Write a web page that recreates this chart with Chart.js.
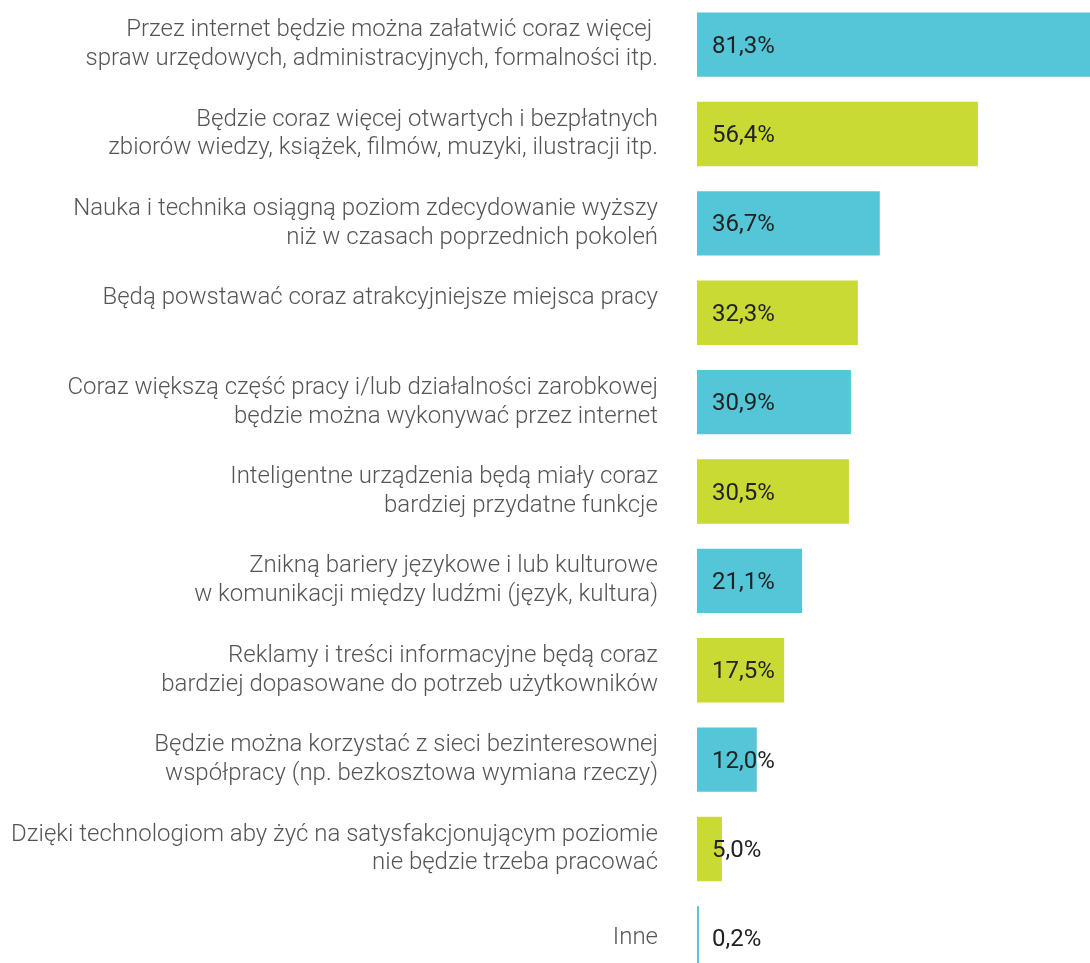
<!DOCTYPE html>
<html>
<head>
<meta charset="utf-8">
<script src="https://cdn.jsdelivr.net/npm/chart.js@4/dist/chart.umd.min.js"></script>
<style>
  html, body { margin: 0; padding: 0; background: #fff; overflow: hidden; }
  #wrap { position: relative; width: 1090px; height: 983px; }
</style>
</head>
<body>
<div id="wrap"><canvas id="wykres"></canvas></div>
<script>
// Dane z wykresu
const kategorie = [
    ["Przez internet będzie można załatwić coraz więcej ", "spraw urzędowych, administracyjnych, formalności itp."],
    ["Będzie coraz więcej otwartych i bezpłatnych", "zbiorów wiedzy, książek, filmów, muzyki, ilustracji itp."],
    ["Nauka i technika osiągną poziom zdecydowanie wyższy", "niż w czasach poprzednich pokoleń"],
    ["Będą powstawać coraz atrakcyjniejsze miejsca pracy", ""],
    ["Coraz większą część pracy i/lub działalności zarobkowej", "będzie można wykonywać przez internet"],
    ["Inteligentne urządzenia będą miały coraz", "bardziej przydatne funkcje"],
    ["Znikną bariery językowe i lub kulturowe", "w komunikacji między ludźmi (język, kultura)"],
    ["Reklamy i treści informacyjne będą coraz", "bardziej dopasowane do potrzeb użytkowników"],
    ["Będzie można korzystać z sieci bezinteresownej", "współpracy (np. bezkosztowa wymiana rzeczy)"],
    ["Dzięki technologiom aby żyć na satysfakcjonującym poziomie", "nie będzie trzeba pracować"],
    "Inne"
];
const wartosci = [81.3, 56.4, 36.7, 32.3, 30.9, 30.5, 21.1, 17.5, 12.0, 5.0, 0.2];
const kolory = ["#55c6d7", "#c9da34"];

// Etykiety wartości w słupkach
const etykietyWartosci = {
    id: "etykietyWartosci",
    afterDatasetsDraw(chart) {
        const ctx = chart.ctx;
        const meta = chart.getDatasetMeta(0);
        ctx.save();
        ctx.font = "400 24px Roboto";
        ctx.fillStyle = "#222";
        ctx.textAlign = "left";
        ctx.textBaseline = "middle";
        meta.data.forEach((bar, i) => {
            const txt = wartosci[i].toFixed(1).replace(".", ",") + "%";
            ctx.fillText(txt, bar.base + 15, bar.y + 2);
        });
        ctx.restore();
    }
};

const canvas = document.getElementById("wykres");
new Chart(canvas.getContext("2d"), {
    type: "bar",
    data: {
        labels: kategorie,
        datasets: [{
            data: wartosci,
            backgroundColor: wartosci.map((v, i) => kolory[i % 2]),
            barPercentage: 0.72,
            categoryPercentage: 1,
            minBarLength: 2
        }]
    },
    options: {
        indexAxis: "y",
        responsive: true,
        maintainAspectRatio: false,
        animation: false,
        layout: { padding: 0 },
        plugins: {
            legend: { display: false },
            tooltip: { enabled: false }
        },
        scales: {
            x: {
                display: false,
                min: 0,
                max: 78.9
            },
            y: {
                grid: { display: false, drawTicks: true, tickLength: 39 },
                border: { display: false },
                afterFit(scale) {
                    scale.width = 697;
                    scale.paddingTop = 0;
                    scale.paddingBottom = 0;
                },
                ticks: {
                    padding: 0,
                    color: "#555",
                    font: { family: "Roboto", weight: 300, size: 24, lineHeight: 1.2 }
                }
            }
        }
    },
    plugins: [etykietyWartosci]
});
</script>
</body>
</html>
